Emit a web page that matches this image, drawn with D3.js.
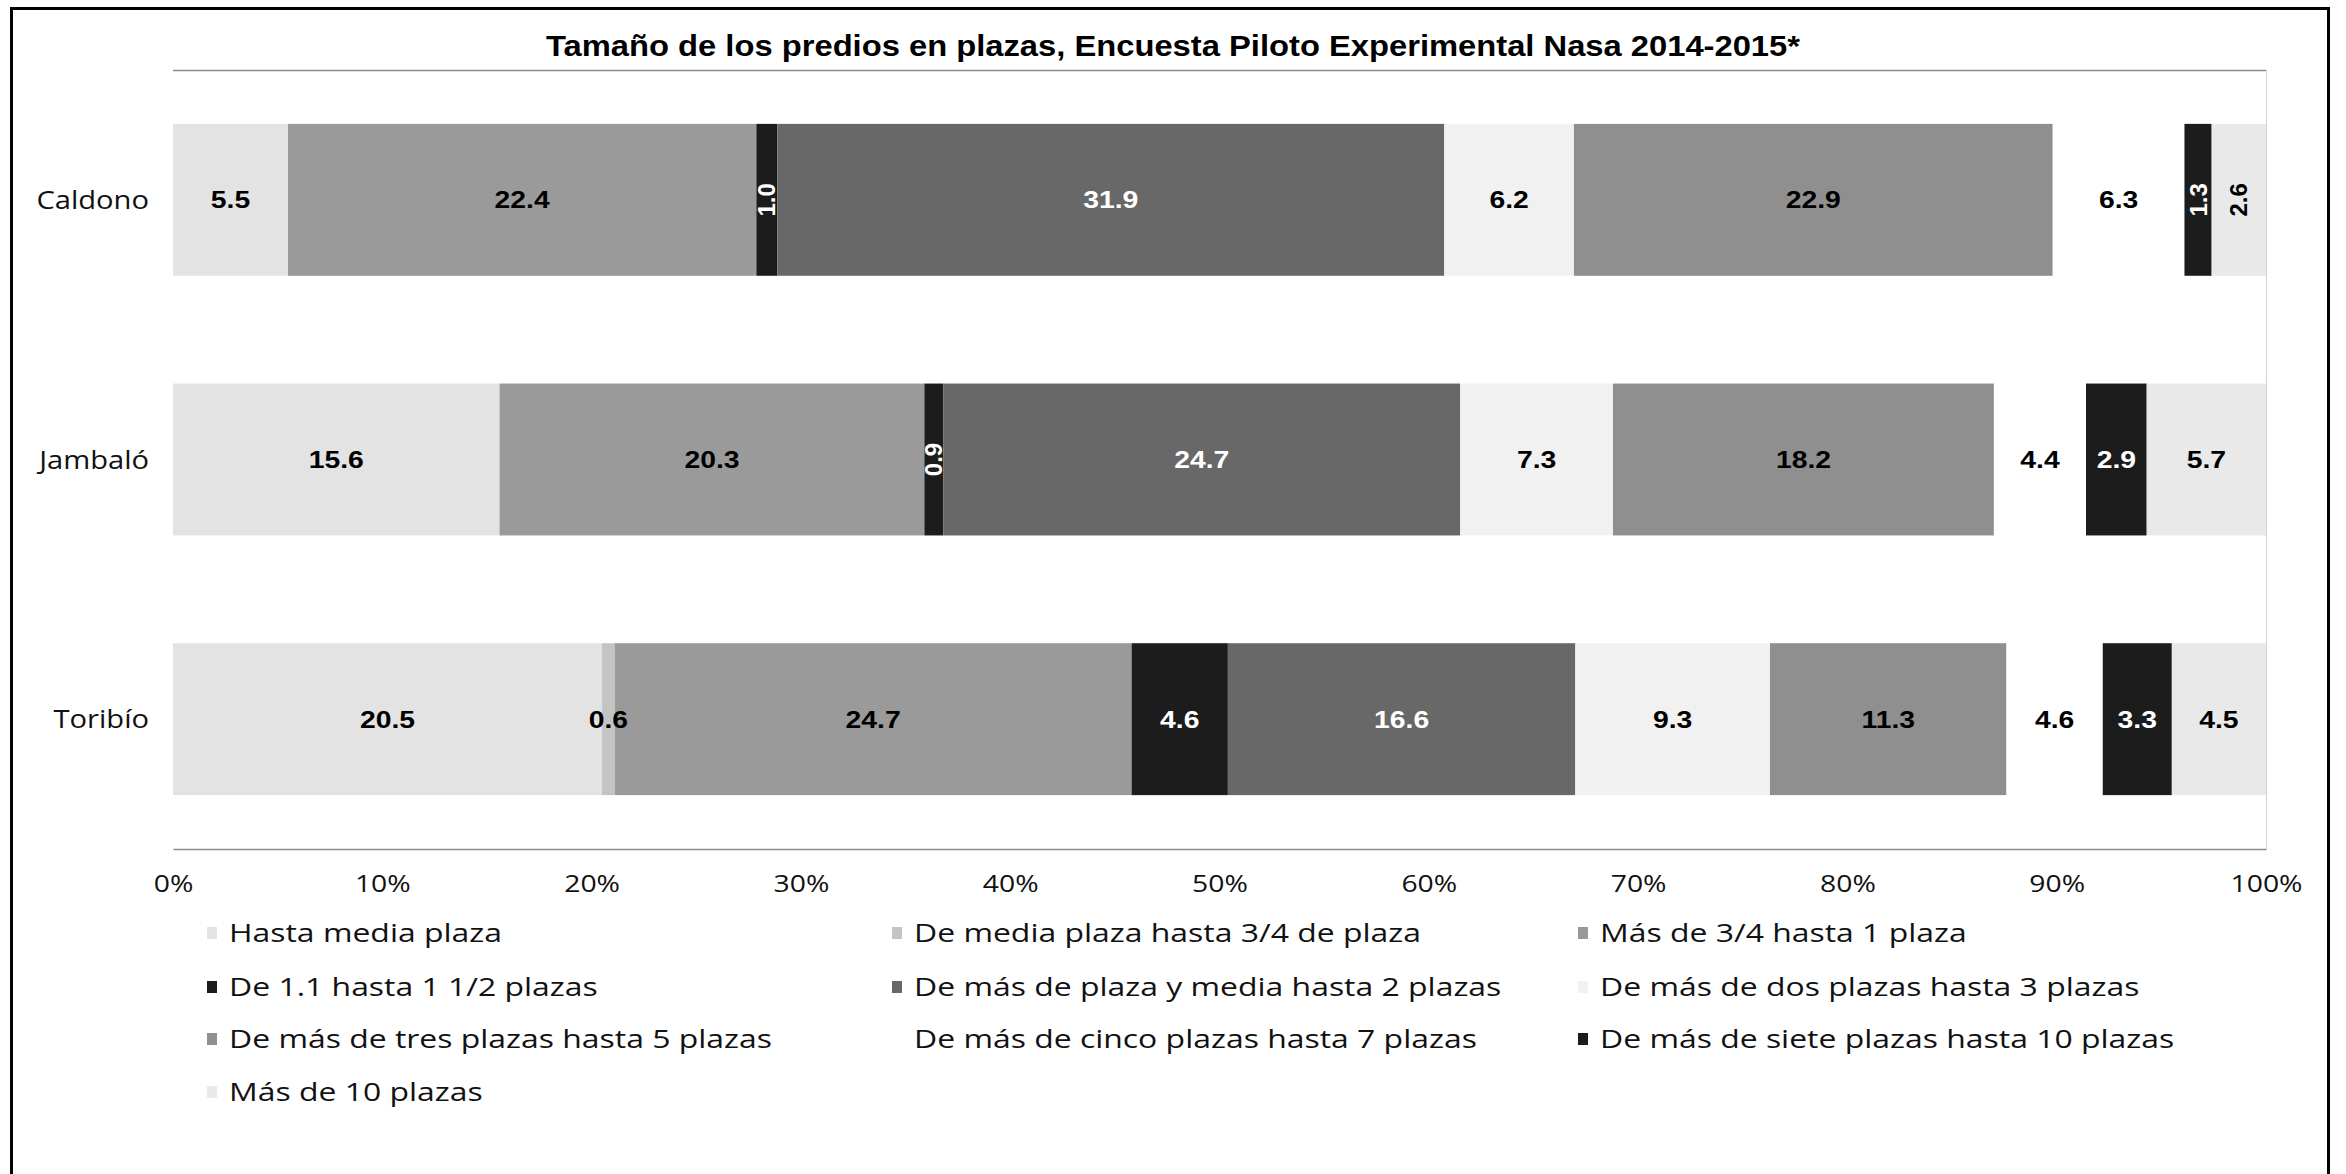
<!DOCTYPE html>
<html>
<head>
<meta charset="utf-8">
<script src="https://cdn.jsdelivr.net/npm/d3@7"></script>
<style>
  html, body { margin: 0; padding: 0; background: #fff; }
  svg { display: block; }
</style>
</head>
<body>
<svg id="chart" width="2346" height="1174"></svg>
<script>
// ---------------- DATA ----------------
const categories = ["Caldono", "Jambaló", "Toribío"];

const seriesNames = [
  "Hasta media plaza",
  "De media plaza hasta 3/4 de plaza",
  "Más de 3/4 hasta 1 plaza",
  "De 1.1 hasta 1 1/2 plazas",
  "De más de plaza y media hasta 2 plazas",
  "De más de dos plazas hasta 3 plazas",
  "De más de tres plazas hasta 5 plazas",
  "De más de cinco plazas hasta 7 plazas",
  "De más de siete plazas hasta 10 plazas",
  "Más de 10 plazas"
];

// values per series, in the order of categories
const hastaMedia   = [5.5, 15.6, 20.5];
const mediaA34     = [0,   0,    0.6];
const mas34a1      = [22.4, 20.3, 24.7];
const de11a15      = [1.0, 0.9,  4.6];
const de15a2       = [31.9, 24.7, 16.6];
const de2a3        = [6.2, 7.3,  9.3];
const de3a5        = [22.9, 18.2, 11.3];
const de5a7        = [6.3, 4.4,  4.6];
const de7a10       = [1.3, 2.9,  3.3];
const mas10        = [2.6, 5.7,  4.5];

const tickLabels = ["0%", "10%", "20%", "30%", "40%", "50%", "60%", "70%", "80%", "90%", "100%"];

const title = "Tamaño de los predios en plazas, Encuesta Piloto Experimental Nasa 2014-2015*";

// ---------------- STYLE ----------------
const seriesColors = ["#e3e3e3", "#c4c4c4", "#9a9a9a", "#1c1c1c", "#686868",
                      "#f1f1f1", "#8f8f8f", "#ffffff", "#1c1c1c", "#e9e9e9"];
const labelColors  = ["#000", "#000", "#000", "#fff", "#fff",
                      "#000", "#000", "#000", "#fff", "#000"];

const allSeries = [hastaMedia, mediaA34, mas34a1, de11a15, de15a2, de2a3, de3a5, de5a7, de7a10, mas10];

const table = categories.map((c, i) => {
  const row = { category: c };
  seriesNames.forEach((s, j) => { row[s] = allSeries[j][i]; });
  return row;
});

const svg = d3.select("#chart");
const W = 2346, H = 1174;
const plot = { left: 173, right: 2266, top: 70, bottom: 849 };

const x = d3.scaleLinear().domain([0, 1]).range([plot.left, plot.right]);
const y = d3.scaleBand().domain(categories).range([plot.top, plot.bottom])
  .paddingInner(0.415).paddingOuter(0.2075);

const STRETCH = 1.18;   // horizontal stretch of the reference lettering
function stretch(sel, k) {
  sel.each(function () {
    const w = this.getComputedTextLength();
    if (w > 0) {
      this.setAttribute("textLength", w * k);
      this.setAttribute("lengthAdjust", "spacingAndGlyphs");
    }
  });
}

// outer frame
svg.append("path")
  .attr("d", `M11.5,${H} V8.5 H2328.5 V${H}`)
  .attr("fill", "none").attr("stroke", "#000").attr("stroke-width", 3);

// title
const t = svg.append("text")
  .attr("x", 1173).attr("y", 56)
  .attr("text-anchor", "middle")
  .style("font-family", "'Liberation Sans', Arial, sans-serif")
  .style("font-weight", "bold").style("font-size", "30px")
  .attr("fill", "#000")
  .text(title);
stretch(t, 1254 / t.node().getComputedTextLength());

// plot frame lines
svg.append("line").attr("x1", plot.left).attr("x2", plot.right)
  .attr("y1", plot.top + 0.5).attr("y2", plot.top + 0.5)
  .attr("stroke", "#8a8a8a").attr("stroke-width", 1.5);
svg.append("line").attr("x1", plot.right + 0.5).attr("x2", plot.right + 0.5)
  .attr("y1", plot.top).attr("y2", plot.bottom)
  .attr("stroke", "#d4d4d4").attr("stroke-width", 1);

// stack (100% stacked)
const stack = d3.stack().keys(seriesNames).offset(d3.stackOffsetExpand);
const stacked = stack(table);

const gBars = svg.append("g");
const groups = gBars.selectAll("g.series").data(stacked).join("g")
  .attr("class", "series")
  .attr("fill", (d, i) => seriesColors[i]);

groups.selectAll("rect").data(d => d.map(p => ({ p, key: d.key }))).join("rect")
  .attr("x", d => x(d.p[0]))
  .attr("y", d => y(d.p.data.category))
  .attr("width", d => Math.max(0, x(d.p[1]) - x(d.p[0])))
  .attr("height", y.bandwidth());

// axis
const xAxis = d3.axisBottom(x)
  .tickValues(d3.range(0, 1.0001, 0.1))
  .tickFormat((d, i) => tickLabels[i])
  .tickSize(0).tickPadding(0);
const ax = svg.append("g").attr("transform", `translate(0,${plot.bottom})`).call(xAxis);
ax.select(".domain").attr("stroke", "#8c8c8c").attr("stroke-width", 1.5);
ax.selectAll(".tick text")
  .attr("y", 43).attr("dy", null)
  .style("font-family", "'Open Sans', sans-serif")
  .style("font-size", "24px").attr("fill", "#111");
stretch(ax.selectAll(".tick text"), STRETCH);

// category labels
const yAxis = d3.axisLeft(y).tickSize(0).tickPadding(0);
const ay = svg.append("g").attr("transform", `translate(149,0)`).call(yAxis);
ay.select(".domain").remove();
ay.selectAll(".tick text")
  .attr("x", 0).attr("dy", "0.35em")
  .style("font-family", "'Open Sans', sans-serif")
  .style("font-size", "26px").attr("fill", "#111");
stretch(ay.selectAll(".tick text"), 1.12);

// data labels
const ROTATED = new Set(["Caldono|3", "Caldono|8", "Caldono|9", "Jambaló|3"]);
const fmt = d3.format(".1f");
const labels = [];
stacked.forEach((s, j) => {
  s.forEach(p => {
    const v = p.data[s.key];
    if (!v) return;
    labels.push({
      v, j, cat: p.data.category,
      cx: (x(p[0]) + x(p[1])) / 2,
      cy: y(p.data.category) + y.bandwidth() / 2,
      rot: ROTATED.has(p.data.category + "|" + j)
    });
  });
});
const lab = svg.append("g").selectAll("text").data(labels).join("text")
  .attr("transform", d => `translate(${d.cx},${d.cy})` + (d.rot ? " rotate(-90)" : ""))
  .attr("text-anchor", "middle")
  .attr("dy", "0.36em")
  .style("font-family", "'Liberation Sans', Arial, sans-serif")
  .style("font-weight", "bold")
  .style("font-size", "24px")
  .attr("fill", d => labelColors[d.j])
  .text(d => fmt(d.v));
stretch(lab.filter(d => !d.rot), STRETCH);

// legend
const legRows = [933, 987, 1039, 1092];
const legCols = [229, 914, 1600];
const leg = svg.append("g").selectAll("g").data(seriesNames).join("g")
  .attr("transform", (d, i) => `translate(${legCols[i % 3]},${legRows[Math.floor(i / 3)]})`);
leg.append("rect")
  .attr("x", -22).attr("y", -6).attr("width", 10).attr("height", 12)
  .attr("fill", (d, i) => seriesColors[i]);
const lt = leg.append("text")
  .attr("x", 0).attr("dy", "0.35em")
  .style("font-family", "'Open Sans', sans-serif")
  .style("font-size", "26px").attr("fill", "#111")
  .text(d => d);
// fit legend lettering to reference width of one entry
const refNode = lt.filter(d => d === "De más de tres plazas hasta 5 plazas").node();
stretch(lt, 543 / refNode.getComputedTextLength());
</script>
</body>
</html>
